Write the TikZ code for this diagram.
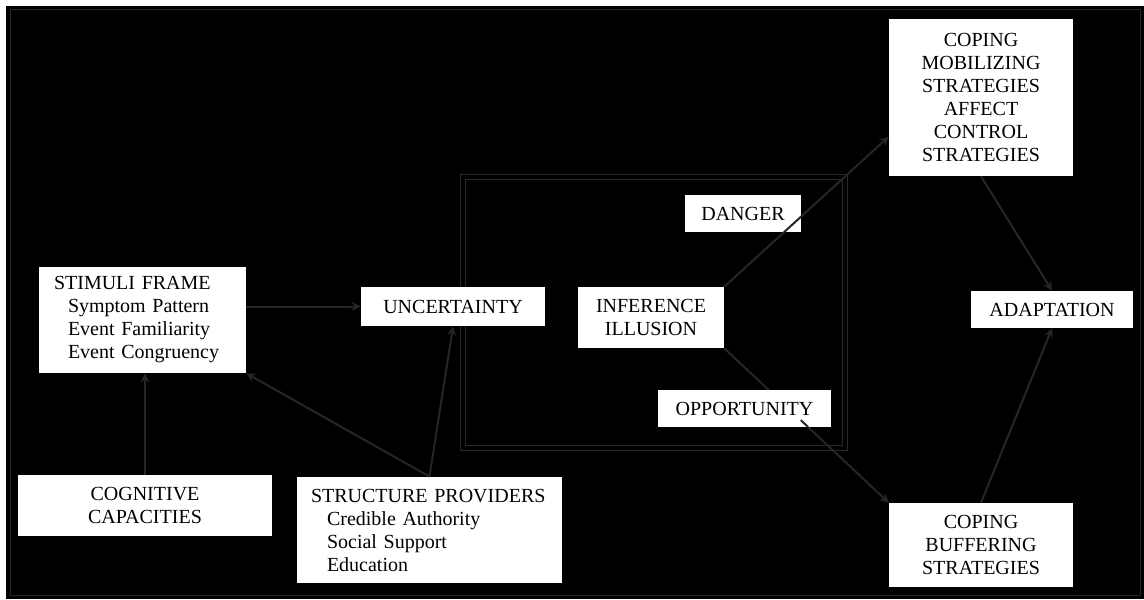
\documentclass[tikz,border=0pt]{standalone}
\usepackage{fontspec}
\setmainfont{Liberation Serif}
\usetikzlibrary{calc}

\begin{document}
\begin{tikzpicture}
  [x=0.5pt, y=-0.5pt,
   box/.style={fill=white, inner sep=0pt, align=center,
               font=\fontsize{10}{11.5}\selectfont},
   listbox/.style={box, align=left},
   line/.style={draw=black!85!white, line width=1pt, ->, >=stealth},
   frame/.style={draw=black!84!white, line width=0.6pt, double=black, double distance=2pt}]
  \useasboundingbox (0,0) rectangle (1144,599);
  \fill[white] (0,0) rectangle (1144,599);
  \fill[black] (6,6) rectangle (1144,599);
  \draw[black!85!white, line width=0.5pt] (10,10) rectangle (1140,595);
  \draw[frame] (463,177) rectangle (845,448);
  \node (stim) [listbox, minimum width=103.5pt, minimum height=53pt, text width=88.5pt]
     at (142.5,320) {STIMULI FRAME\\\hspace*{7pt}Symptom Pattern\\\hspace*{7pt}Event Familiarity\\\hspace*{7pt}Event Congruency};
  \node (unc) [box, minimum width=92pt, minimum height=19.5pt] at (453,306.5) {UNCERTAINTY};
  \node (cog) [box, minimum width=127pt, minimum height=30.5pt] at (145,505.5) {COGNITIVE\\CAPACITIES};
  \node (str) [listbox, minimum width=132.5pt, minimum height=53pt, text width=118.5pt]
     at (429.5,530) {STRUCTURE PROVIDERS\\\hspace*{8pt}Credible Authority\\\hspace*{8pt}Social Support\\\hspace*{8pt}Education};
  \node (inf) [box, minimum width=73pt, minimum height=30.5pt] at (651,317.5) {INFERENCE\\ILLUSION};
  \node (cmob) [box, minimum width=92pt, minimum height=78.5pt] at (981,97.5)
     {COPING\\MOBILIZING\\STRATEGIES\\AFFECT\\CONTROL\\STRATEGIES};
  \node (cbuf) [box, minimum width=92pt, minimum height=42pt] at (981,545) {COPING\\BUFFERING\\STRATEGIES};
  \node (adp) [box, minimum width=81pt, minimum height=18.5pt] at (1052,309.5) {ADAPTATION};
  \draw[line] (stim.east |- unc.west) -- (unc.west);
  \draw[line] (cog.north) -- (cog.north |- stim.south);
  \draw[line] (str.north) -- (stim.south east);
  \draw[line] (str.north) -- (unc.south);
  \draw[line] (inf.south east) -- (cbuf.north west);
  \draw[line] (cmob.south) -- (adp.north);
  \draw[line] (cbuf.north) -- (adp.south);
  \node (dng) [box, minimum width=58pt, minimum height=18.5pt] at (743,213.5) {DANGER};
  \node (opp) [box, minimum width=86.5pt, minimum height=18.5pt] at (744.5,408.5) {OPPORTUNITY};
  \draw[line] (inf.north east) -- (cmob.203);
  \draw[black!85!white, line width=1pt] ($(inf.south east)!0.465!(cbuf.north west)$) -- ($(inf.south east)!0.51!(cbuf.north west)$);
\end{tikzpicture}
\end{document}
